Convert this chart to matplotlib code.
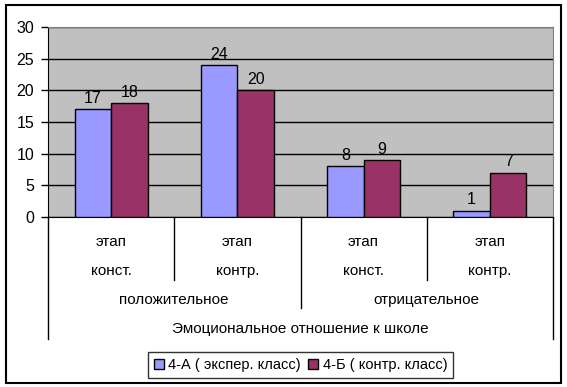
import matplotlib.pyplot as plt
from matplotlib.patches import Rectangle, Patch
import numpy as np

plt.rcParams['font.family'] = ['Liberation Sans', 'DejaVu Sans']

# data
stage_top = ['этап', 'этап', 'этап', 'этап']
stage_bottom = ['конст.', 'контр.', 'конст.', 'контр.']
groups = ['положительное', 'отрицательное']
axis_title = 'Эмоциональное отношение к школе'
series_names = ['4-А ( экспер. класс)', '4-Б ( контр. класс)']
class_a = [17, 24, 8, 1]
class_b = [18, 20, 9, 7]
colors = ['#9999FF', '#993366']

W, H = 567, 387
fig = plt.figure(figsize=(W / 100, H / 100), dpi=100)

# plot area in pixel coords
left, right, top, bottom = 48, 553, 27, 217
ax = fig.add_axes([left / W, (H - bottom) / H, (right - left) / W, (bottom - top) / H])
ax.set_facecolor('#C0C0C0')

x = np.arange(len(stage_top))
bw = 0.29
for i, vals in enumerate([class_a, class_b]):
    bars = ax.bar(x + (i - 0.5) * bw, vals, bw, color=colors[i], edgecolor='black',
                  linewidth=1, zorder=3)
    for b, v in zip(bars, vals):
        ax.annotate(str(v), (b.get_x() + b.get_width() / 2, v), xytext=(0, 2.5),
                    textcoords='offset points', ha='center', va='bottom', fontsize=11.5)

ax.set_xlim(-0.5, len(x) - 0.5)
ax.set_ylim(0, 30)
ax.set_yticks(range(0, 31, 5))
ax.yaxis.grid(True, color='black', linewidth=1, zorder=1)
ax.set_axisbelow(True)
ax.set_xticks([])
ax.tick_params(axis='y', length=5, width=1, pad=5, labelsize=11.5)
for s in ['top', 'right']:
    ax.spines[s].set_color('#808080')
for s in ['left', 'bottom']:
    ax.spines[s].set_color('black')


def yfrac(py):
    return (bottom - py) / (bottom - top)


tr = ax.get_xaxis_transform()
edges = np.arange(len(x) + 1) - 0.5
line_kw = dict(color='black', linewidth=1, transform=tr, clip_on=False)
for k, e in enumerate(edges):
    if k in (0, len(edges) - 1):
        y_end = 339
    elif k == len(edges) // 2:
        y_end = 308
    else:
        y_end = 280
    ax.plot([e, e], [0, yfrac(y_end)], **line_kw)

txt = dict(ha='center', va='center', fontsize=11, transform=tr)
for xi, t1, t2 in zip(x, stage_top, stage_bottom):
    ax.text(xi, yfrac(242), t1, **txt)
    ax.text(xi, yfrac(271), t2, **txt)
for gi, g in enumerate(groups):
    ax.text(gi * 2 + 0.5, yfrac(300), g, **txt)
ax.text((len(x) - 1) / 2, yfrac(329), axis_title, **txt)

handles = [Patch(facecolor=c, edgecolor='black', linewidth=1) for c in colors]
leg = ax.legend(handles, series_names, loc='center', bbox_to_anchor=(0.5, yfrac(365)),
                ncol=2, frameon=True, fancybox=False, fontsize=10.5,
                handlelength=0.7, handleheight=0.7, handletextpad=0.3,
                columnspacing=0.5, borderpad=0.4, borderaxespad=0)
leg.get_frame().set_edgecolor('black')
leg.get_frame().set_linewidth(1)

fig.patches.append(Rectangle((5.5 / W, (H - 383) / H), (561 - 5.5) / W, (383 - 5) / H,
                             transform=fig.transFigure, fill=False, edgecolor='black',
                             linewidth=1.5))

fig.savefig('out.png', dpi=100)
